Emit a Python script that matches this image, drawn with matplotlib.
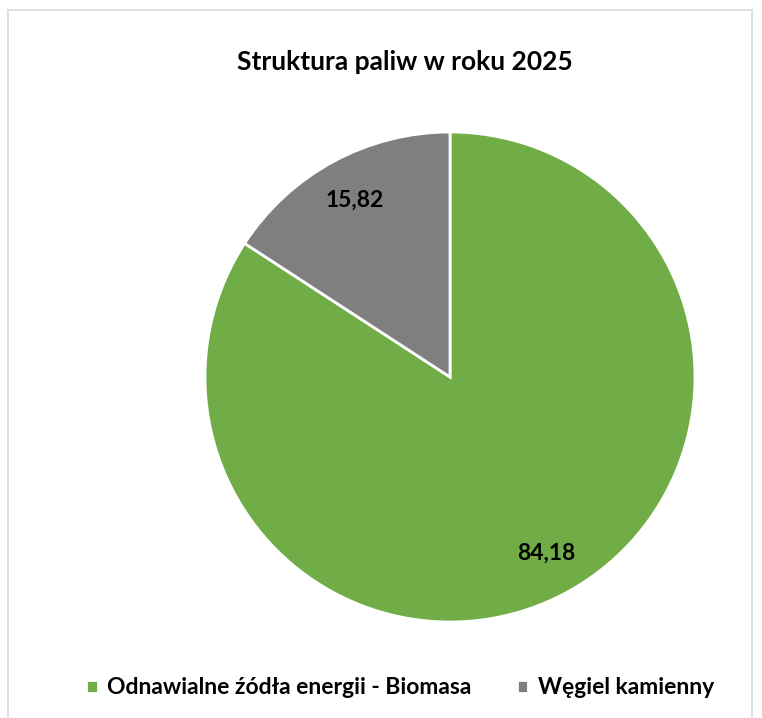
import matplotlib.pyplot as plt
from matplotlib.patches import Rectangle

# data
labels = ["Odnawialne źódła energii - Biomasa", "Węgiel kamienny"]
values = [84.18, 15.82]
colors = ["#70AD47", "#7F7F7F"]
title = "Struktura paliw w roku 2025"

plt.rcParams['font.family'] = ['Lato', 'DejaVu Sans']

W, H = 762, 718
fig = plt.figure(figsize=(W / 100, H / 100), dpi=100)

# chart border
fig.patches.append(Rectangle((8 / W, -0.01), (752 - 8) / W, 1 - 10 / H + 0.01,
                             transform=fig.transFigure, fill=False,
                             edgecolor="#D9D9D9", linewidth=1.2))

# pie axes: center (450, 377) px, radius 245 px
cx, cy, r = 450, 377, 245
ax = fig.add_axes([(cx - r) / W, (H - cy - r) / H, 2 * r / W, 2 * r / H])
wedges, texts, autotexts = ax.pie(
    values, colors=colors, startangle=90, counterclock=False,
    autopct=lambda p: f"{p:.2f}".replace(".", ","), pctdistance=0.82,
    wedgeprops=dict(edgecolor="white", linewidth=2),
    textprops=dict(fontsize=16.5, fontweight="bold", color="black"))
ax.set_xlim(-1, 1)
ax.set_ylim(-1, 1)
ax.set_aspect("equal")
ax.axis("off")

fig.text(405 / W, 1 - 62 / H, title, ha="center", va="center",
         fontsize=19, fontweight="bold")

leg = fig.legend(wedges, labels, loc="center", bbox_to_anchor=(400 / W, 1 - 688 / H),
                 ncol=2, frameon=False, fontsize=16.5, handlelength=0.5,
                 handleheight=0.5, handletextpad=0.4, columnspacing=2.0)
for t in leg.get_texts():
    t.set_fontweight("bold")

fig.savefig("out.png", dpi=100)
